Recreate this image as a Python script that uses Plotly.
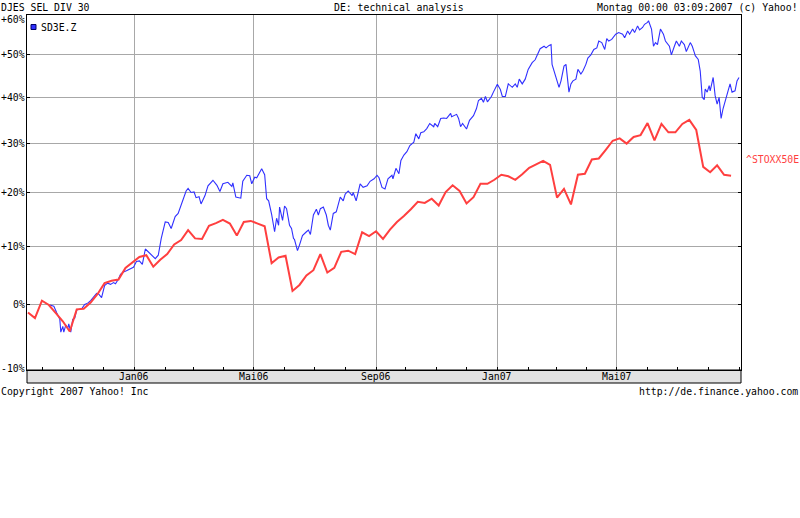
import numpy as np
import pandas as pd
import plotly.graph_objects as go

# ---------------- data ----------------
start_date = "2005-09-15"
end_date = "2007-09-03"

# ^STOXX50E weekly (Fridays), % change
stoxx_start = "2005-09-16"
stoxx_pct = [
    -1.2, -2.1, 0.7, 0.0, -1.3, -2.6, -4.2, -0.7, -0.6, 0.4,
    1.8, 3.6, 4.0, 4.2, 6.2, 7.2, 8.1, 8.4, 6.4, 7.6,
    8.6, 10.3, 11.1, 12.9, 11.4, 11.3, 13.7, 14.2, 14.8, 14.1,
    11.9, 14.4, 14.6, 14.1, 13.6, 7.0, 8.0, 8.3, 2.3, 3.3,
    4.9, 5.8, 8.6, 5.4, 6.2, 9.0, 9.2, 8.6, 12.5, 11.8,
    12.7, 11.3, 13.0, 14.4, 15.5, 16.8, 18.2, 18.0, 18.8, 17.5,
    20.1, 21.4, 20.3, 17.9, 19.1, 21.7, 21.7, 22.5, 23.5, 23.2,
    22.5, 23.6, 24.9, 25.6, 26.3, 25.5, 19.0, 20.7, 17.7, 23.5,
    23.7, 26.6, 26.8, 28.6, 30.5, 31.0, 29.9, 31.3, 31.7, 34.3,
    30.6, 34.1, 32.3, 32.3, 34.1, 35.0, 32.8, 25.1, 24.0, 25.4,
    23.5, 23.3,
]

# SD3E.Z (days after 2005-09-15), % change
sd3e_days = [
    23, 27, 30, 33, 34, 36, 37, 39, 41, 42, 44, 46, 48, 50, 53, 55, 58, 61, 64, 67,
    70, 72, 75, 78, 81, 84, 87, 89, 92, 94, 97, 100, 103, 107, 108, 110, 113, 116, 119, 122,
    125, 129, 132, 135, 139, 142, 145, 149, 152, 155, 158, 160, 162, 165, 168, 170, 173, 175, 179, 182,
    187, 191, 194, 197, 202, 206, 207, 210, 215, 217, 221, 224, 226, 229, 231, 236, 239, 241, 243, 246,
    249, 251, 253, 254, 257, 259, 261, 264, 266, 268, 269, 272, 274, 277, 281, 283, 285, 288, 291, 293,
    295, 298, 301, 303, 305, 308, 311, 312, 315, 318, 320, 323, 327, 328, 331, 333, 335, 338, 342, 345,
    349, 352, 354, 357, 360, 363, 367, 368, 371, 374, 376, 379, 382, 385, 389, 391, 394, 396, 399, 402,
    405, 409, 410, 413, 416, 419, 422, 426, 427, 432, 434, 436, 438, 442, 445, 449, 452, 454, 457, 459,
    461, 463, 467, 469, 473, 476, 478, 481, 484, 488, 491, 493, 495, 498, 501, 504, 508, 511, 514, 516,
    520, 522, 525, 527, 528, 530, 532, 535, 537, 540, 542, 544, 545, 547, 549, 552, 554, 557, 559, 562,
    564, 567, 570, 573, 575, 578, 581, 583, 585, 588, 592, 595, 599, 601, 604, 606, 609, 611, 614, 616,
    619, 621, 624, 625, 628, 630, 632, 634, 637, 640, 642, 646, 648, 651, 653, 656, 658, 661, 663, 667,
    669, 671, 672, 675, 677, 678, 679, 681, 682, 684, 686, 687, 690, 692, 694, 696, 698, 700, 703, 705,
    707, 709, 712, 714, 716,
]
sd3e_pct = [
    0.0, -0.2, -1.3, -2.3, -4.3, -3.4, -4.3, -3.2, -3.7, -3.0, -4.3, -2.3, -2.1, -0.8, -0.7, -0.6, 0.1, 0.3, 0.7, 1.3,
    1.9, 1.8, 1.2, 3.2, 3.6, 3.4, 3.7, 3.5, 4.3, 5.1, 5.5, 5.7, 6.0, 6.3, 6.6, 7.3, 7.4, 6.8, 9.5, 9.0,
    8.5, 7.8, 8.4, 11.4, 14.4, 14.3, 13.2, 15.4, 16.0, 17.6, 18.8, 20.3, 20.8, 20.0, 20.1, 19.0, 19.2, 17.8, 19.4, 21.3,
    22.4, 21.4, 20.2, 21.7, 22.0, 21.2, 21.9, 19.1, 18.9, 22.2, 23.4, 23.3, 21.7, 23.0, 22.9, 24.7, 23.5, 18.8, 18.4, 15.8,
    12.6, 15.1, 13.8, 17.2, 14.7, 17.4, 16.9, 13.8, 13.2, 11.4, 11.2, 9.2, 10.2, 11.9, 12.6, 12.9, 12.1, 15.7, 16.8, 15.7,
    16.9, 17.2, 15.7, 13.8, 12.9, 16.0, 16.3, 16.9, 19.1, 18.4, 19.7, 20.3, 19.4, 20.0, 18.4, 20.0, 21.7, 21.0, 21.3, 22.2,
    22.7, 23.4, 22.9, 21.0, 20.7, 22.7, 23.4, 22.7, 24.8, 23.7, 26.4, 27.5, 28.2, 29.5, 30.2, 32.0, 30.9, 32.2, 32.4, 33.1,
    34.2, 33.5, 34.2, 33.5, 35.3, 35.4, 35.3, 36.4, 35.7, 36.2, 35.3, 33.5, 34.2, 33.0, 34.9, 35.9, 37.5, 39.3, 39.8, 38.9,
    40.2, 39.0, 40.2, 41.2, 43.0, 41.8, 40.2, 40.2, 43.1, 42.3, 43.1, 42.3, 44.2, 43.1, 44.2, 46.5, 48.1, 48.8, 50.4, 51.5,
    52.1, 51.7, 52.3, 52.5, 47.7, 46.1, 44.2, 42.3, 43.8, 47.3, 47.7, 43.8, 41.2, 43.1, 43.8, 44.2, 46.5, 45.4, 46.1, 47.7,
    49.2, 50.0, 51.3, 51.7, 53.4, 53.0, 51.3, 54.0, 53.4, 53.8, 55.1, 55.5, 55.1, 54.2, 55.9, 55.1, 56.4, 55.5, 57.2, 56.2,
    56.8, 57.6, 58.1, 58.5, 56.4, 52.1, 53.0, 52.5, 56.4, 55.1, 53.4, 52.1, 50.0, 52.1, 53.4, 52.1, 53.4, 52.5, 50.8, 53.0,
    52.1, 50.6, 49.8, 48.9, 46.1, 43.1, 40.0, 39.5, 41.9, 41.2, 42.7, 41.5, 44.6, 40.4, 38.5, 40.0, 35.3, 37.5, 39.6, 41.5,
    43.1, 41.2, 41.5, 43.8, 44.6,
]

y_tick_pct = [-10, 0, 10, 20, 30, 40, 50, 60]
y_tick_text = ["-10%", "0%", "+10%", "+20%", "+30%", "+40%", "+50%", "+60%"]
x_tick_dates = ["2006-01-01", "2006-05-01", "2006-09-01", "2007-01-01", "2007-05-01"]
x_tick_text = ["Jan06", "Mai06", "Sep06", "Jan07", "Mai07"]

# ---------------- build ----------------
stoxx_dates = pd.date_range(stoxx_start, periods=len(stoxx_pct), freq="7D")
sd3e_dates = pd.Timestamp(start_date) + pd.to_timedelta(sd3e_days, unit="D")

stoxx_y = 1 + np.array(stoxx_pct) / 100.0
sd3e_y = 1 + np.array(sd3e_pct) / 100.0

FONT = "DejaVu Sans Mono"
FS = 9.8
BLUE = "#3030ff"
RED = "#ff3f3f"
GRID = "#a8a8a8"

W, H = 800, 518
L, R, T, B = 27, 59, 15, 148
PH = H - T - B  # plot height in px
PW = W - L - R


def py(pix):  # pixel y -> paper y
    return (H - B - pix) / PH


def px(pix):  # pixel x -> paper x
    return (pix - L) / PW


fig = go.Figure()
fig.add_trace(go.Scatter(x=sd3e_dates, y=sd3e_y, mode="lines",
                         line=dict(color=BLUE, width=1.1), showlegend=False, hoverinfo="skip"))
fig.add_trace(go.Scatter(x=stoxx_dates, y=stoxx_y, mode="lines",
                         line=dict(color=RED, width=2), showlegend=False, hoverinfo="skip"))

y_vals = [1 + v / 100.0 for v in y_tick_pct]

fig.update_layout(
    width=W, height=H,
    margin=dict(l=L, r=R, t=T, b=B, pad=0),
    paper_bgcolor="white", plot_bgcolor="white",
    font=dict(family=FONT, size=FS, color="black"),
    xaxis=dict(
        type="date", range=[start_date, end_date],
        tickvals=x_tick_dates, showticklabels=False,
        ticks="", showgrid=True, gridcolor=GRID, gridwidth=1,
        showline=True, linecolor="black", linewidth=1, mirror=True,
        minor=dict(dtick="M1", tick0="2005-10-01", ticks="inside", ticklen=3,
                   tickcolor="black", showgrid=False),
        zeroline=False,
    ),
    yaxis=dict(
        type="log", range=[np.log10(0.9), np.log10(1.6)],
        tickvals=y_vals, showticklabels=False,
        ticks="inside", ticklen=3, tickcolor="black",
        showgrid=True, gridcolor=GRID, gridwidth=1,
        showline=True, linecolor="black", linewidth=1, mirror="allticks",
        zeroline=False,
    ),
)

# 0% line in black
fig.add_shape(type="line", xref="paper", yref="y", x0=0, x1=1,
              y0=np.log10(1.0), y1=np.log10(1.0), line=dict(color="black", width=1))

# gray date strip below plot
fig.add_shape(type="rect", xref="paper", yref="paper", x0=0, x1=1,
              y0=py(383), y1=0, fillcolor="#e2e2e2", line=dict(color="black", width=1),
              layer="below")

# y tick labels
for v, txt in zip(y_vals, y_tick_text):
    ys = 0
    if txt == "+60%":
        ys = -4
    elif txt == "-10%":
        ys = 2
    fig.add_annotation(x=0, xref="paper", y=np.log10(v), yref="y", text=txt,
                       showarrow=False, xanchor="right", yanchor="middle",
                       xshift=-1, yshift=ys, borderpad=0,
                       font=dict(family=FONT, size=FS))

# x tick labels in strip
for d, txt in zip(x_tick_dates, x_tick_text):
    fig.add_annotation(x=d, xref="x", y=py(376.5), yref="paper", text=txt,
                       showarrow=False, xanchor="center", yanchor="middle",
                       font=dict(family=FONT, size=FS))

# header / footer texts
fig.add_annotation(x=px(0), xref="paper", y=py(7.5), yref="paper", borderpad=0,
                   text="DJES SEL DIV 30", showarrow=False, xanchor="left", yanchor="middle")
fig.add_annotation(x=px(399), xref="paper", y=py(7.5), yref="paper",
                   text="DE: technical analysis", showarrow=False, xanchor="center", yanchor="middle")
fig.add_annotation(x=px(799), xref="paper", y=py(7.5), yref="paper", borderpad=0,
                   text="Montag 00:00 03:09:2007 (c) Yahoo!", showarrow=False,
                   xanchor="right", yanchor="middle")
fig.add_annotation(x=px(0), xref="paper", y=py(392), yref="paper", borderpad=0,
                   text="Copyright 2007 Yahoo! Inc", showarrow=False, xanchor="left", yanchor="middle")
fig.add_annotation(x=px(799), xref="paper", y=py(392), yref="paper", borderpad=0,
                   text="http://de.finance.yahoo.com", showarrow=False,
                   xanchor="right", yanchor="middle")

# legend for SD3E.Z
fig.add_shape(type="rect", xref="paper", yref="paper", x0=px(31), x1=px(36),
              y0=py(29.5), y1=py(24.5), fillcolor=BLUE, line=dict(color="#000066", width=1))
fig.add_annotation(x=px(39), xref="paper", y=py(28), yref="paper", text="SD3E.Z",
                   showarrow=False, xanchor="left", yanchor="middle")

# right label for ^STOXX50E
fig.add_annotation(x=px(744), xref="paper", y=py(159), yref="paper", text="^STOXX50E",
                   showarrow=False, xanchor="left", yanchor="middle",
                   font=dict(family=FONT, size=FS, color=RED))

fig.write_html("out.html", config={"displayModeBar": False})

# remove default page margin so the figure sits at the top-left corner
with open("out.html", "r", encoding="utf-8") as f:
    html = f.read()
html = html.replace("<head>", "<head><style>html,body{margin:0;padding:0;overflow:hidden;}</style>", 1)
with open("out.html", "w", encoding="utf-8") as f:
    f.write(html)
